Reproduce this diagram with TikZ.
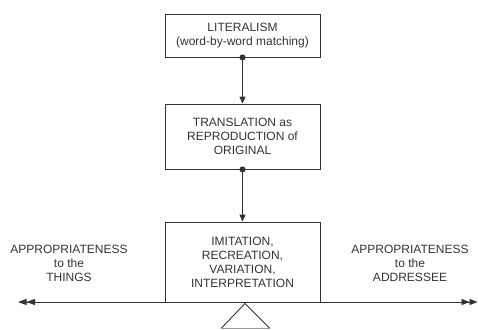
\documentclass[tikz,border=0pt]{standalone}
\usepackage{fontspec}
\setmainfont{Liberation Sans}
\usetikzlibrary{arrows.meta}
\definecolor{ink}{gray}{0.2}
\tikzset{
  boxnode/.style={draw=ink, line width=0.9pt, minimum width=155pt, align=center, inner sep=0pt,
    font=\fontsize{12}{14}\selectfont, text=ink},
  lbl/.style={align=center, font=\fontsize{12}{14}\selectfont, text=ink, inner sep=0pt},
  link/.style={draw=ink, line width=0.9pt, shorten <=-3pt, {Circle[length=6pt]}-{Triangle[length=7pt,width=6pt]}},
  axis/.style={draw=ink, line width=0.9pt,
    {Triangle[length=8.5pt,width=6pt]Triangle[length=8.5pt,width=6pt]}-{Triangle[length=8pt,width=6pt]Triangle[length=8pt,width=6pt]}}
}
\begin{document}
\begin{tikzpicture}[x=1pt,y=-1pt]
\useasboundingbox (0,0) rectangle (478,329);
\node[boxnode, minimum height=43pt] (lit) at (242.5,35.5) {LITERALISM\\(word-by-word matching)};
\node[boxnode, minimum height=65pt] (tra) at (242.5,136.5) {TRANSLATION as\\REPRODUCTION of\\ORIGINAL};
\node[boxnode, minimum height=80pt] (imi) at (242.5,262) {IMITATION,\\RECREATION,\\VARIATION,\\INTERPRETATION};
\node[lbl] (things) at (69,263) {APPROPRIATENESS\\to the\\THINGS};
\node[lbl] (addr) at (410,263) {APPROPRIATENESS\\to the\\ADDRESSEE};
\coordinate (L) at (18,302);
\coordinate (R) at (477.5,302);
\coordinate (apex) at (245,303.5);
\coordinate (bl) at (221,328.5);
\coordinate (br) at (270,328.5);
\draw[link] (lit.south) -- (tra.north);
\draw[link] (tra.south) -- (imi.north);
\draw[axis] (L) -- (R);
\draw[draw=ink, line width=0.9pt, line join=miter] (bl) -- (apex) -- (br);
\draw[draw=ink!50, line width=0.9pt] (bl) -- (br);
\end{tikzpicture}
\end{document}
